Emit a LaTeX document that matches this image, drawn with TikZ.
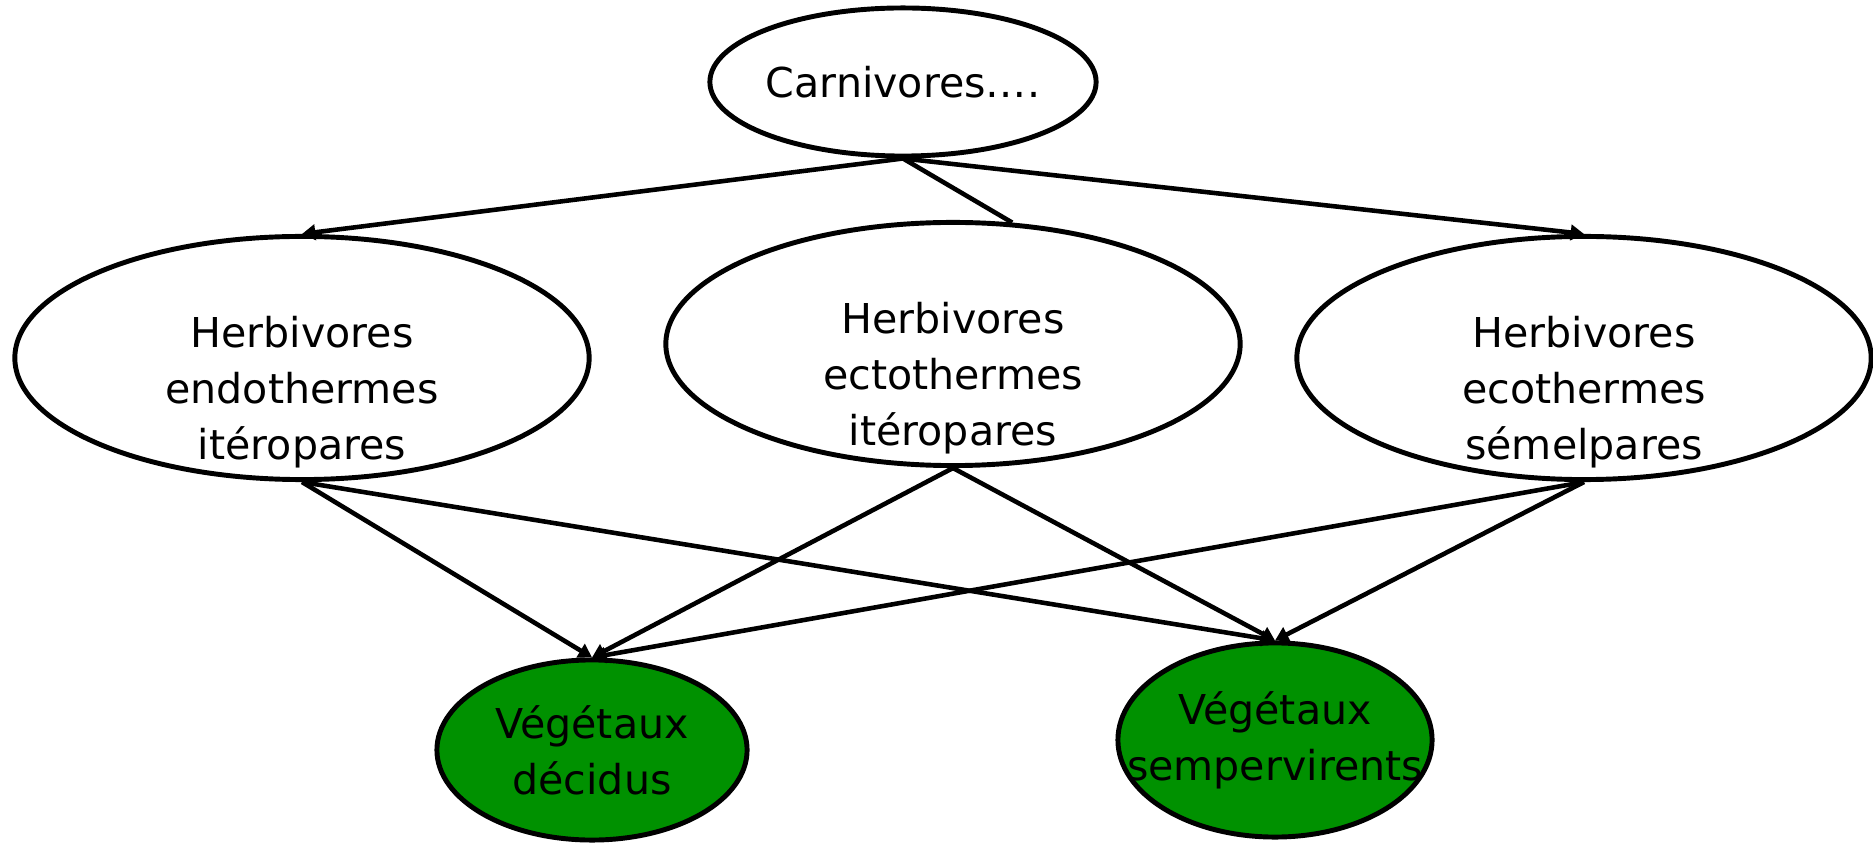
\documentclass[tikz,border=0pt]{standalone}
\usepackage{fontspec}
\setmainfont{DejaVu Sans}
\usepackage{xcolor}
\usepackage{tikz}
\usetikzlibrary{shapes.geometric,arrows.meta}

\definecolor{leafgreen}{RGB}{0,145,0}

\begin{document}
\begin{tikzpicture}[
    x=0.01cm, y=-0.01cm,
    >={Triangle[length=3.8pt,width=4.4pt]},
    line width=1.3pt,
    font=\fontsize{11.7pt}{16pt}\selectfont,
    oval/.style={ellipse, draw=black, line width=1.4pt, inner sep=-5mm, align=center},
    herb/.style={oval, fill=white, minimum width=57.4mm, minimum height=24.3mm, text height=21.2mm},
    plant/.style={oval, fill=leafgreen},
  ]
    \useasboundingbox (0,0) rectangle (1873,843);

    % ---------- top level ----------
    \node[oval, fill=white, minimum width=38.6mm, minimum height=14.8mm] (carn) at (903,82) {Carnivores….};

    % ---------- herbivores ----------
    \node[herb] (endo)  at (302,358)  {Herbivores\\endothermes\\itéropares};
    \node[herb] (ecto)  at (953,344)  {Herbivores\\ectothermes\\itéropares};
    \node[herb] (semel) at (1584,358) {Herbivores\\ecothermes\\sémelpares};

    % ---------- plants ----------
    \node[plant, minimum width=31.0mm, minimum height=18.0mm] (decid)  at (592,750)  {Végétaux\\décidus};
    \node[plant, minimum width=31.4mm, minimum height=19.4mm] (semper) at (1275,740) {Végétaux\\sempervirents};

    % ---------- links ----------
    \draw[->] (carn.south) -- (endo.north);
    \draw[->] (carn.south) -- (semel.north);
    \draw (carn.south) -- (ecto.64);
    \foreach \h in {endo,ecto,semel}
      \foreach \v in {decid,semper} \draw[->] (\h.south) -- (\v.north);
\end{tikzpicture}
\end{document}
